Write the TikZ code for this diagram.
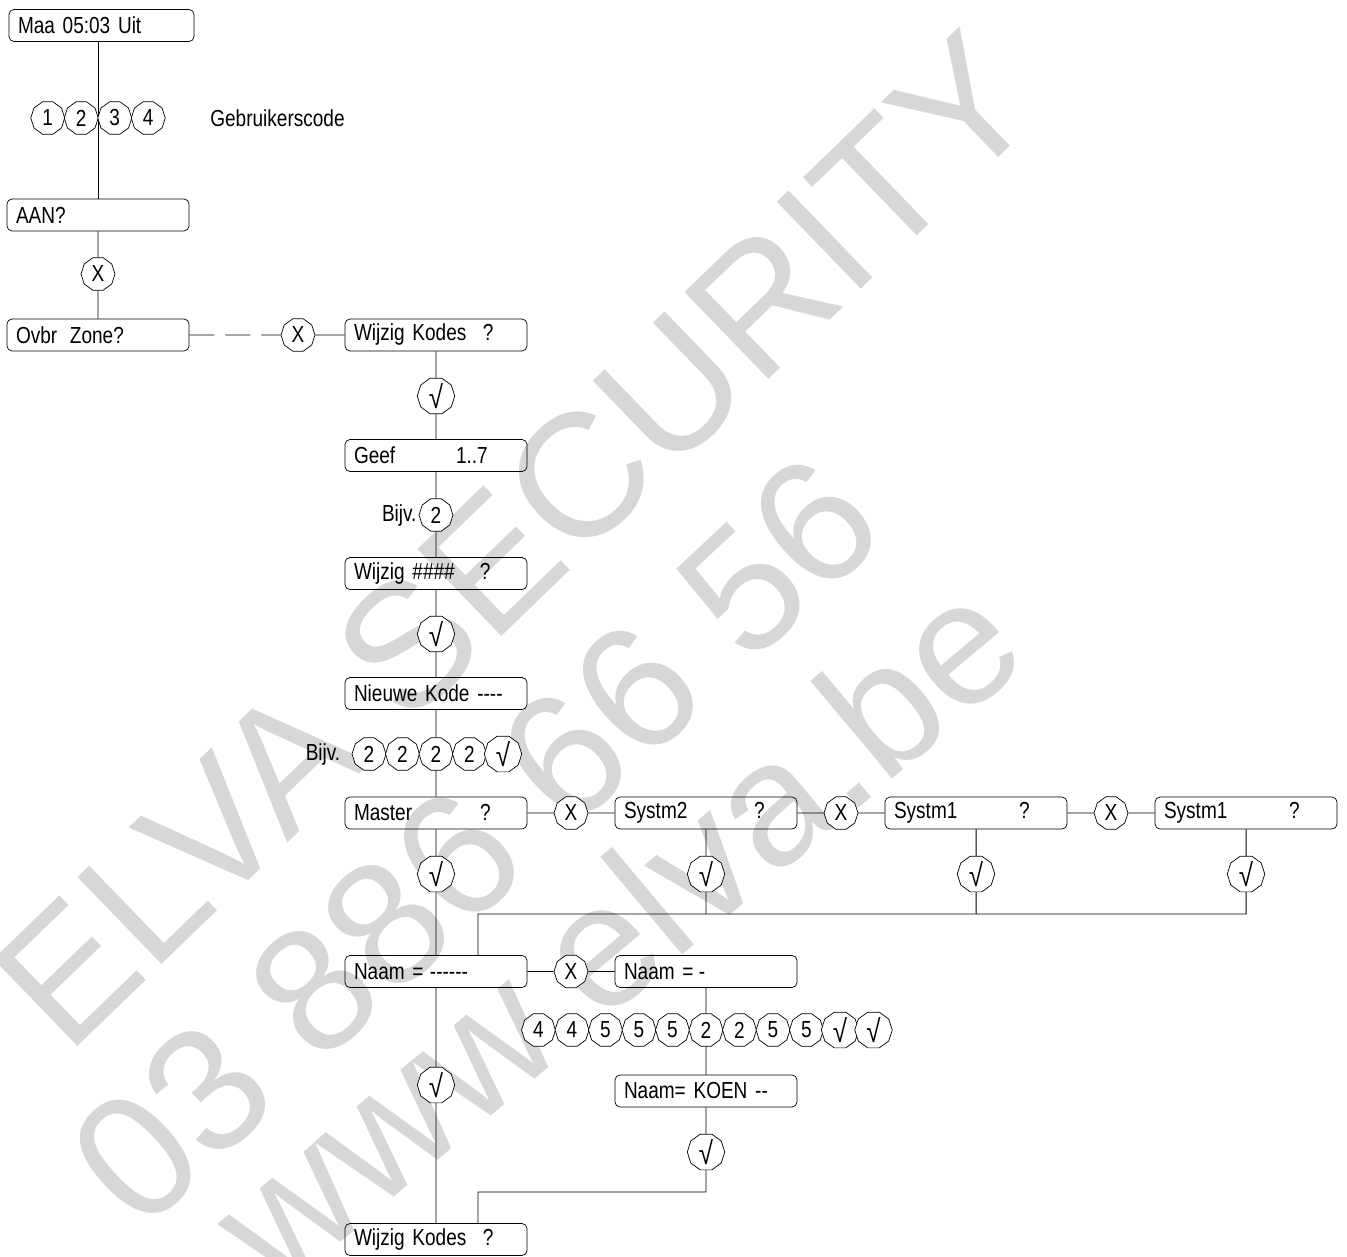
\documentclass[tikz,border=0pt]{standalone}
\usepackage{fontspec}
\setmainfont{Liberation Sans}[FakeStretch=0.82]
\newfontfamily\wmfont{Liberation Sans}
\usepackage{tikz}
\usetikzlibrary{positioning,shapes.geometric}
\definecolor{wmgray}{RGB}{215,215,215}
\newcommand{\dfont}{\fontsize{13.2}{15}\selectfont}
\newcommand{\dsp}[3][2.52cm]{\makebox[#1][l]{#2}#3}
\newcommand{\ok}{{\fontsize{18}{18}\selectfont √}}
\pgfdeclarelayer{wmark}
\pgfdeclarelayer{wires}
\pgfsetlayers{wmark,wires,main}
\tikzset{
  disp/.style={draw, rounded corners=0.1cm, minimum width=3.64cm, minimum height=0.64cm,
    text width=3.28cm, inner xsep=0.18cm, inner ysep=0pt, align=left, font=\dfont},
  key/.style={draw, fill=white, regular polygon, regular polygon sides=10,
    minimum size=0.68cm, inner sep=0pt, font=\dfont},
  lab/.style={font=\dfont, inner sep=0pt},
  wire/.style={line width=0.55pt},
  wm/.style={text=wmgray, font=\wmfont\fontsize{100}{100}\selectfont, inner sep=0pt},
}

\begin{document}
\begin{tikzpicture}[x=1cm,y=1cm]
\useasboundingbox (0,0) rectangle (26.94,-25.12);
\begin{pgfonlayer}{wmark}
  \node[wm, rotate=44] (wm1) at (10.3,-10.8) {ELVA SECURITY};
  \node[wm, rotate=43] (wm2) at (9.5,-16.8) {03 886 66 56};
  \node[wm, rotate=40] (wm3) at (12.3,-18.6) {www.elva.be};
\end{pgfonlayer}
% login
\node[disp, minimum width=3.7cm, text width=3.34cm] (maa) at (2.03,-0.51) {Maa 05:03 Uit};
\foreach \d [count=\i] in {1,2,3,4}
  \node[key] (c\i) at ({1.96+(\i-2.5)*0.67},-2.36) {\d};
\node[lab, anchor=west] (gebr) at (4.2,-2.36) {Gebruikerscode};
\node[disp] (aan) at (1.96,-4.30) {AAN?};
\node[key] (xa) at (1.96,-5.48) {X};
\node[disp] (ovbr) at (1.96,-6.70) {Ovbr\hspace{0.55em}Zone?};
\node[key] (xb) at (5.96,-6.70) {X};
% change code
\node[disp] (wk) at (8.72,-6.70) {\dsp[2.58cm]{Wijzig Kodes}{?}};
\node[key] (ok1) at (8.72,-7.92) {\ok};
\node[disp] (geef) at (8.72,-9.11) {\dsp[2.04cm]{Geef}{1..7}};
\node[key] (nr) at (8.72,-10.30) {2};
\node[lab, left=1pt of nr] (bij1) {Bijv.};
\node[disp] (wijz) at (8.72,-11.47) {\dsp{Wijzig \#\#\#\#}{?}};
\node[key] (ok2) at (8.72,-12.68) {\ok};
\node[disp] (nieuw) at (8.72,-13.87) {Nieuwe Kode -{}-{}-{}-};
\foreach \d [count=\i] in {2,2,2,2,\ok}
  \node[key] (n\i) at ({8.72+(\i-3)*0.67},-15.08) {\d};
\node[lab, left=0.22cm of n1] (bij2) {Bijv.};
% user type
\node[disp] (mast) at (8.72,-16.26) {\dsp{Master}{?}};
\node[disp] (sys2) at (14.12,-16.26) {\dsp[2.6cm]{Systm2}{?}};
\node[disp] (sys1) at (19.52,-16.26) {\dsp[2.5cm]{Systm1}{?}};
\node[disp] (sys1b) at (24.92,-16.26) {\dsp[2.5cm]{Systm1}{?}};
\foreach \x [count=\i] in {11.42,16.82,22.22}
  \node[key] (xm\i) at (\x,-16.26) {X};
\foreach \n/\x in {mast/8.72, sys2/14.12, sys1/19.52, sys1b/24.92}
  \node[key] (ok\n) at (\x,-17.48) {\ok};
\coordinate (busL) at (9.56,-18.28);
% name
\node[disp] (naam) at (8.72,-19.43) {\dsp[1.52cm]{Naam =}{-{}-{}-{}-{}-{}-}};
\node[key] (xn) at (11.42,-19.43) {X};
\node[disp] (naam2) at (14.12,-19.43) {\dsp[1.5cm]{Naam =}{-}};
\foreach \d [count=\i] in {4,4,5,5,5,2,2,5,5,\ok,\ok}
  \node[key] (t\i) at ({14.12+(\i-6)*0.67},-20.60) {\d};
\node[key] (okN) at (8.72,-21.70) {\ok};
\node[disp] (koen) at (14.12,-21.82) {Naam= KOEN -{}-};
\node[key] (okK) at (14.12,-23.04) {\ok};
\coordinate (bend) at (9.56,-23.84);
\node[disp] (wk2) at (8.72,-24.79) {\dsp[2.58cm]{Wijzig Kodes}{?}};

\begin{pgfonlayer}{wires}
  \draw[wire] (maa.south -| aan.north) -- (aan.north);
  \draw[wire] (aan) -- (xa) -- (ovbr);
  \draw[wire, dash pattern=on 0.5cm off 0.22cm] (ovbr) -- (xb);
  \draw[wire] (xb) -- (wk) -- (ok1) -- (geef) -- (nr) -- (wijz) -- (ok2) -- (nieuw) -- (n3) -- (mast);
  \draw[wire] (mast) -- (xm1) -- (sys2) -- (xm2) -- (sys1) -- (xm3) -- (sys1b);
  \draw[wire] (mast) -- (okmast) -- (naam);
  \draw[wire] (sys2) -- (oksys2) -- (oksys2 |- busL);
  \draw[wire] (sys1) -- (oksys1) -- (oksys1 |- busL);
  \draw[wire] (sys1b) -- (oksys1b) |- (busL) -- (busL |- naam.north);
  \draw[wire] (naam) -- (xn) -- (naam2) -- (t6) -- (koen) -- (okK) |- (bend) -- (bend |- wk2.north);
  \draw[wire] (naam) -- (okN) -- (wk2);
\end{pgfonlayer}
\end{tikzpicture}
\end{document}
